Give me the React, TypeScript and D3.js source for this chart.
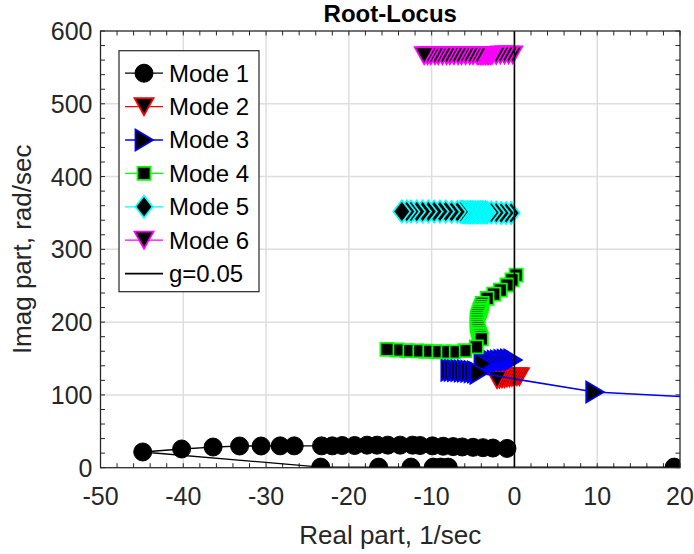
import React from 'react'
import * as d3 from 'd3'

const mode1X = [-0.9, -2.6, -3.8, -5.0, -6.3, -7.4, -8.6, -9.9, -11.4, -12.3, -13.8, -15.3, -16.6, -17.8, -19.3, -20.8, -22.0, -23.3, -26.6, -28.3, -30.6, -33.2, -36.4, -40.2, -44.9, -23.4, -16.4, -12.5, -9.8, -8.9, -8.0, 19.3]
const mode1Y = [26.5, 27, 27.5, 28, 28.5, 29, 29.5, 30, 30.5, 31, 31, 31, 31, 31, 30.5, 30.5, 30, 30, 30, 30, 29.8, 29.8, 28.4, 25.7, 21.6, 0.8, 0.8, 0.8, 0.8, 0.8, 0.8, 0.8]

const mode2X = [0.6, 0.3, 0.0, -0.3, -0.6, -0.9, -1.2, -1.5, -1.8, -2.1]
const mode2Y = [125, 125, 124.5, 124, 123.5, 123, 122.5, 122, 121.5, 121]

const mode3X = [-0.2, -0.6, -1.0, -1.4, -1.8, -2.2, -2.6, -3.0, -3.4, -3.8, -7.8, -7.4, -7.0, -6.6, -6.2, -5.8, -5.4, -5.0, -4.6, -4.3, 9.7, 30]
const mode3Y = [148, 148, 147.5, 147, 146.5, 146, 145.5, 145, 144, 143, 134, 134, 133.5, 133.5, 133, 133, 132.5, 132, 131.5, 130, 104, 92]

const mode4X = [0.2, -0.3, -0.9, -1.7, -2.5, -3.3, -3.9, -4.0, -4.1, -4.2, -4.3, -4.4, -4.5, -4.5, -4.5, -4.5, -4.5, -4.4, -4.4, -4.3, -4.2, -4.1, -4.0, -4.6, -6.0, -7.4, -8.6, -9.6, -10.7, -11.8, -13.0, -14.2, -15.4]
const mode4Y = [264.6, 258, 251, 244, 238.6, 232.7, 225.8, 222, 219, 216, 213, 210, 207, 204, 201, 198, 195, 192, 189, 186, 183, 180, 177, 166, 160.9, 159, 159, 159.5, 160, 160.5, 160.9, 161.7, 162.6]

const mode5X = [-0.4, -1.0, -1.6, -2.2, -2.8, -3.3, -3.5, -3.7, -3.9, -4.1, -4.3, -4.5, -4.7, -4.9, -5.1, -5.3, -5.5, -5.7, -5.9, -6.1, -6.3, -6.5, -6.9, -7.6, -8.3, -9.0, -9.7, -10.4, -11.1, -11.8, -12.5, -13.0, -13.6]
const mode5Y = [350, 350, 350, 350.5, 350.5, 350.5, 351, 351, 351, 351, 351, 351, 351, 351, 351, 351, 351, 351, 351, 351, 351.5, 351.5, 351.5, 351.5, 352, 352, 352, 352, 352, 352, 352, 352, 352]

const mode6X = [-0.2, -0.7, -1.2, -1.7, -2.2, -2.7, -2.9, -3.1, -3.3, -3.5, -3.7, -3.9, -4.1, -4.3, -4.5, -5.0, -5.4, -5.9, -6.4, -6.8, -7.3, -7.8, -8.2, -8.7, -9.2, -9.6, -10.1, -10.5, -10.9]
const mode6Y = [567, 567, 567, 567, 566.5, 566.5, 566.5, 566, 566, 566, 566, 566, 566, 566, 566, 566, 566, 566, 566, 566, 566, 566, 566, 566, 566, 566, 566, 566, 566]

const gLineX = [0, 0]
const gLineY = [0, 600]

const legendLabels = ['Mode 1', 'Mode 2', 'Mode 3', 'Mode 4', 'Mode 5', 'Mode 6', 'g=0.05']
const modeColors = ['#000000', '#ff0000', '#0000ff', '#00ff00', '#00ffff', '#ff00ff']
const modeMarkers = ['circle', 'down', 'right', 'square', 'diamond', 'down']

const W = 694
const H = 554
const margin = { top: 31, right: 14, bottom: 86.3, left: 100.5 }
const FONT = '"Liberation Sans", Arial, Helvetica, sans-serif'

const markerPath = (kind: string) => {
  switch (kind) {
    case 'circle':
      return 'M9,0A9,9 0 1,1 -9,0A9,9 0 1,1 9,0Z'
    case 'down':
      return 'M-9.5,-8.5L9.5,-8.5L0,8.5Z'
    case 'right':
      return 'M-8.5,-10.5L-8.5,10.5L9,0Z'
    case 'square':
      return 'M-6.5,-6.5L6.5,-6.5L6.5,6.5L-6.5,6.5Z'
    case 'diamond':
      return 'M0,-11L8.5,0L0,11L-8.5,0Z'
    default:
      return ''
  }
}

export default function App() {
  const iw = W - margin.left - margin.right
  const ih = H - margin.top - margin.bottom

  const x = d3.scaleLinear().domain([-50, 20]).range([0, iw])
  const y = d3.scaleLinear().domain([0, 600]).range([ih, 0])

  const xMajor = d3.range(-50, 21, 10)
  const xMinor = d3.range(-50, 21, 2)
  const yMajor = d3.range(0, 601, 100)
  const yMinor = d3.range(0, 601, 20)

  const line = d3.line<[number, number]>().x((d) => x(d[0])).y((d) => y(d[1]))

  const series = [
    [mode1X, mode1Y],
    [mode2X, mode2Y],
    [mode3X, mode3Y],
    [mode4X, mode4Y],
    [mode5X, mode5Y],
    [mode6X, mode6Y],
  ].map(([xs, ys]) => xs.map((v, i) => [v, ys[i]] as [number, number]))

  const tickLen = 4.5
  const axisColor = '#262626'

  return (
    <svg width={W} height={H} style={{ position: 'absolute', left: 0, top: 0, background: '#fff' }} fontFamily={FONT}>
      <defs>
        <clipPath id="plot-clip">
          <rect x={0} y={0} width={iw} height={ih} />
        </clipPath>
      </defs>
      <g transform={`translate(${margin.left},${margin.top})`}>
        {/* grid */}
        {xMajor.map((t) => (
          <line key={`gx${t}`} x1={x(t)} x2={x(t)} y1={0} y2={ih} stroke="#dedede" strokeWidth={1.5} />
        ))}
        {yMajor.map((t) => (
          <line key={`gy${t}`} x1={0} x2={iw} y1={y(t)} y2={y(t)} stroke="#dedede" strokeWidth={1.5} />
        ))}

        {/* ticks on all four sides, pointing in */}
        {xMinor.map((t) => (
          <g key={`tx${t}`} stroke={axisColor} strokeWidth={1}>
            <line x1={x(t)} x2={x(t)} y1={ih} y2={ih - tickLen} />
            <line x1={x(t)} x2={x(t)} y1={0} y2={tickLen} />
          </g>
        ))}
        {yMinor.map((t) => (
          <g key={`ty${t}`} stroke={axisColor} strokeWidth={1}>
            <line x1={0} x2={tickLen} y1={y(t)} y2={y(t)} />
            <line x1={iw} x2={iw - tickLen} y1={y(t)} y2={y(t)} />
          </g>
        ))}

        {/* data */}
        <g clipPath="url(#plot-clip)">
          {series.map((pts, si) => (
            <g key={`s${si}`}>
              <path d={line(pts) || ''} fill="none" stroke={modeColors[si]} strokeWidth={si === 0 ? 1.3 : 1.6} />
              {pts.map((p, i) => (
                <path
                  key={i}
                  d={markerPath(modeMarkers[si])}
                  transform={`translate(${x(p[0])},${y(p[1])})`}
                  fill="#000"
                  stroke={modeColors[si]}
                  strokeWidth={si === 0 ? 1 : 1.8}
                />
              ))}
            </g>
          ))}
          <path
            d={line(gLineX.map((v, i) => [v, gLineY[i]] as [number, number])) || ''}
            stroke="#000"
            strokeWidth={1.6}
            fill="none"
          />
        </g>

        {/* box */}
        <rect x={0} y={0} width={iw} height={ih} fill="none" stroke={axisColor} strokeWidth={1.2} />

        {/* tick labels */}
        {xMajor.map((t) => (
          <text key={`lx${t}`} x={x(t)} y={ih + 37} textAnchor="middle" fontSize={25} fill={axisColor}>
            {t}
          </text>
        ))}
        {yMajor.map((t) => (
          <text key={`ly${t}`} x={-8} y={y(t) + 9} textAnchor="end" fontSize={25} fill={axisColor}>
            {t}
          </text>
        ))}

        {/* labels */}
        <text x={iw / 2} y={-9.5} textAnchor="middle" fontSize={24} fontWeight="bold" fill="#000">
          Root-Locus
        </text>
        <text x={iw / 2} y={ih + 76} textAnchor="middle" fontSize={26} fill={axisColor}>
          Real part, 1/sec
        </text>
        <text
          transform={`translate(${-70},${ih / 2}) rotate(-90)`}
          textAnchor="middle"
          fontSize={26}
          fill={axisColor}
        >
          Imag part, rad/sec
        </text>

        {/* legend */}
        <g transform={`translate(${119 - margin.left},${50.7 - margin.top})`}>
          <rect x={0} y={0} width={140} height={241} fill="#fff" stroke={axisColor} strokeWidth={1.2} />
          {legendLabels.map((lab, i) => {
            const ly = 22.5 + i * 33.4
            const c = i < 6 ? modeColors[i] : '#000'
            return (
              <g key={lab}>
                <line x1={6} x2={44} y1={ly} y2={ly} stroke={c} strokeWidth={i === 6 ? 1.6 : 1.3} />
                {i < 6 && (
                  <path
                    d={markerPath(modeMarkers[i])}
                    transform={`translate(25,${ly})`}
                    fill="#000"
                    stroke={c}
                    strokeWidth={i === 0 ? 1 : 1.8}
                  />
                )}
                <text x={50} y={ly + 8.5} fontSize={24} fill="#000">
                  {lab}
                </text>
              </g>
            )
          })}
        </g>
      </g>
    </svg>
  )
}
